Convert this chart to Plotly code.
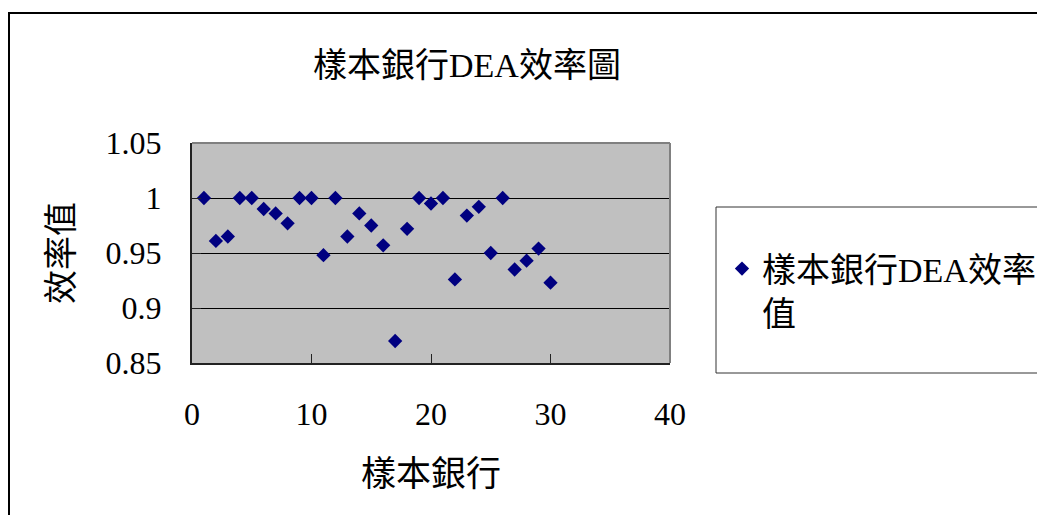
import plotly.graph_objects as go

banks = list(range(1, 31))
efficiency = [1.0, 0.961, 0.965, 1.0, 1.0, 0.990, 0.986, 0.977, 1.0, 1.0,
              0.948, 1.0, 0.965, 0.986, 0.975, 0.957, 0.870, 0.972, 1.0, 0.995,
              1.0, 0.926, 0.984, 0.992, 0.950, 1.0, 0.935, 0.943, 0.954, 0.923]

title_text = "樣本銀行DEA效率圖"
x_title = "樣本銀行"
y_title = "效率值"
series_name = "樣本銀行DEA效率<br>值"

FONT = "Liberation Serif, 'Times New Roman', 'Noto Sans CJK TC', serif"

OFF = 8  # page body margin
W, H = 1045 - OFF, 515 - OFF
# target page-pixel positions of the plot area
PL, PR, PT, PB = 192, 670, 143, 363
ML, MT = PL - OFF, PT - OFF
MR = W - (PR - OFF)
MB = H - (PB - OFF)
PW = W - ML - MR
PH = H - MT - MB


def px_x(p):
    return (p - OFF - ML) / PW


def px_y(p):
    return (H - MB - (p - OFF)) / PH


fig = go.Figure()
fig.add_trace(go.Scatter(
    x=banks, y=efficiency, mode="markers", name=series_name,
    marker=dict(symbol="diamond", size=11, color="#000080"),
))

fig.update_layout(
    width=W, height=H,
    margin=dict(l=ML, r=MR, t=MT, b=MB, autoexpand=False),
    paper_bgcolor="white",
    plot_bgcolor="#C0C0C0",
    font=dict(family=FONT, color="black", size=32),
    title=dict(text=title_text, x=(467 - OFF) / W, xref="container", xanchor="center",
               y=1 - (65 - OFF) / H, yref="container", yanchor="middle",
               font=dict(family=FONT, size=34, color="black")),
    showlegend=True,
    legend=dict(x=px_x(722), y=px_y(240), xanchor="left", yanchor="top",
                bgcolor="rgba(0,0,0,0)", borderwidth=0, valign="top",
                font=dict(family=FONT, size=34, color="black")),
    xaxis=dict(range=[0, 40], tickvals=[0, 10, 20, 30, 40],
               showgrid=False, zeroline=False, automargin=False,
               showline=True, linecolor="#222", linewidth=2,
               ticks="inside", ticklen=9, tickcolor="#222", tickwidth=1,
               ticklabelstandoff=22,
               tickfont=dict(family=FONT, size=32, color="black"),
               title=dict(text=x_title, standoff=30,
                          font=dict(family=FONT, size=35, color="black"))),
    yaxis=dict(range=[0.85, 1.05], tickvals=[0.85, 0.9, 0.95, 1.0, 1.05],
               ticktext=["0.85", "0.9", "0.95", "1", "1.05"],
               showgrid=True, gridcolor="black", gridwidth=1, zeroline=False,
               automargin=False,
               showline=True, linecolor="#222", linewidth=2,
               ticks="inside", ticklen=9, tickcolor="#222", tickwidth=1,
               ticklabelstandoff=22,
               tickfont=dict(family=FONT, size=32, color="black"),
               title=dict(text=y_title, standoff=22,
                          font=dict(family=FONT, size=34, color="black"))),
    shapes=[
        # outer chart border
        dict(type="rect", xref="paper", yref="paper",
             x0=px_x(9), x1=px_x(1100), y0=px_y(600), y1=px_y(13),
             line=dict(color="black", width=2), fillcolor="rgba(0,0,0,0)",
             layer="below"),
        # plot area top/right border
        dict(type="line", xref="paper", yref="paper", x0=0, x1=1, y0=1, y1=1,
             line=dict(color="#808080", width=2)),
        dict(type="line", xref="paper", yref="paper", x0=1, x1=1, y0=0, y1=1,
             line=dict(color="#808080", width=2)),
        # legend box
        dict(type="rect", xref="paper", yref="paper",
             x0=px_x(716), x1=px_x(1100), y0=px_y(373), y1=px_y(207),
             line=dict(color="#333", width=1), fillcolor="white", layer="below"),
    ],
)

fig.write_html("out.html")
